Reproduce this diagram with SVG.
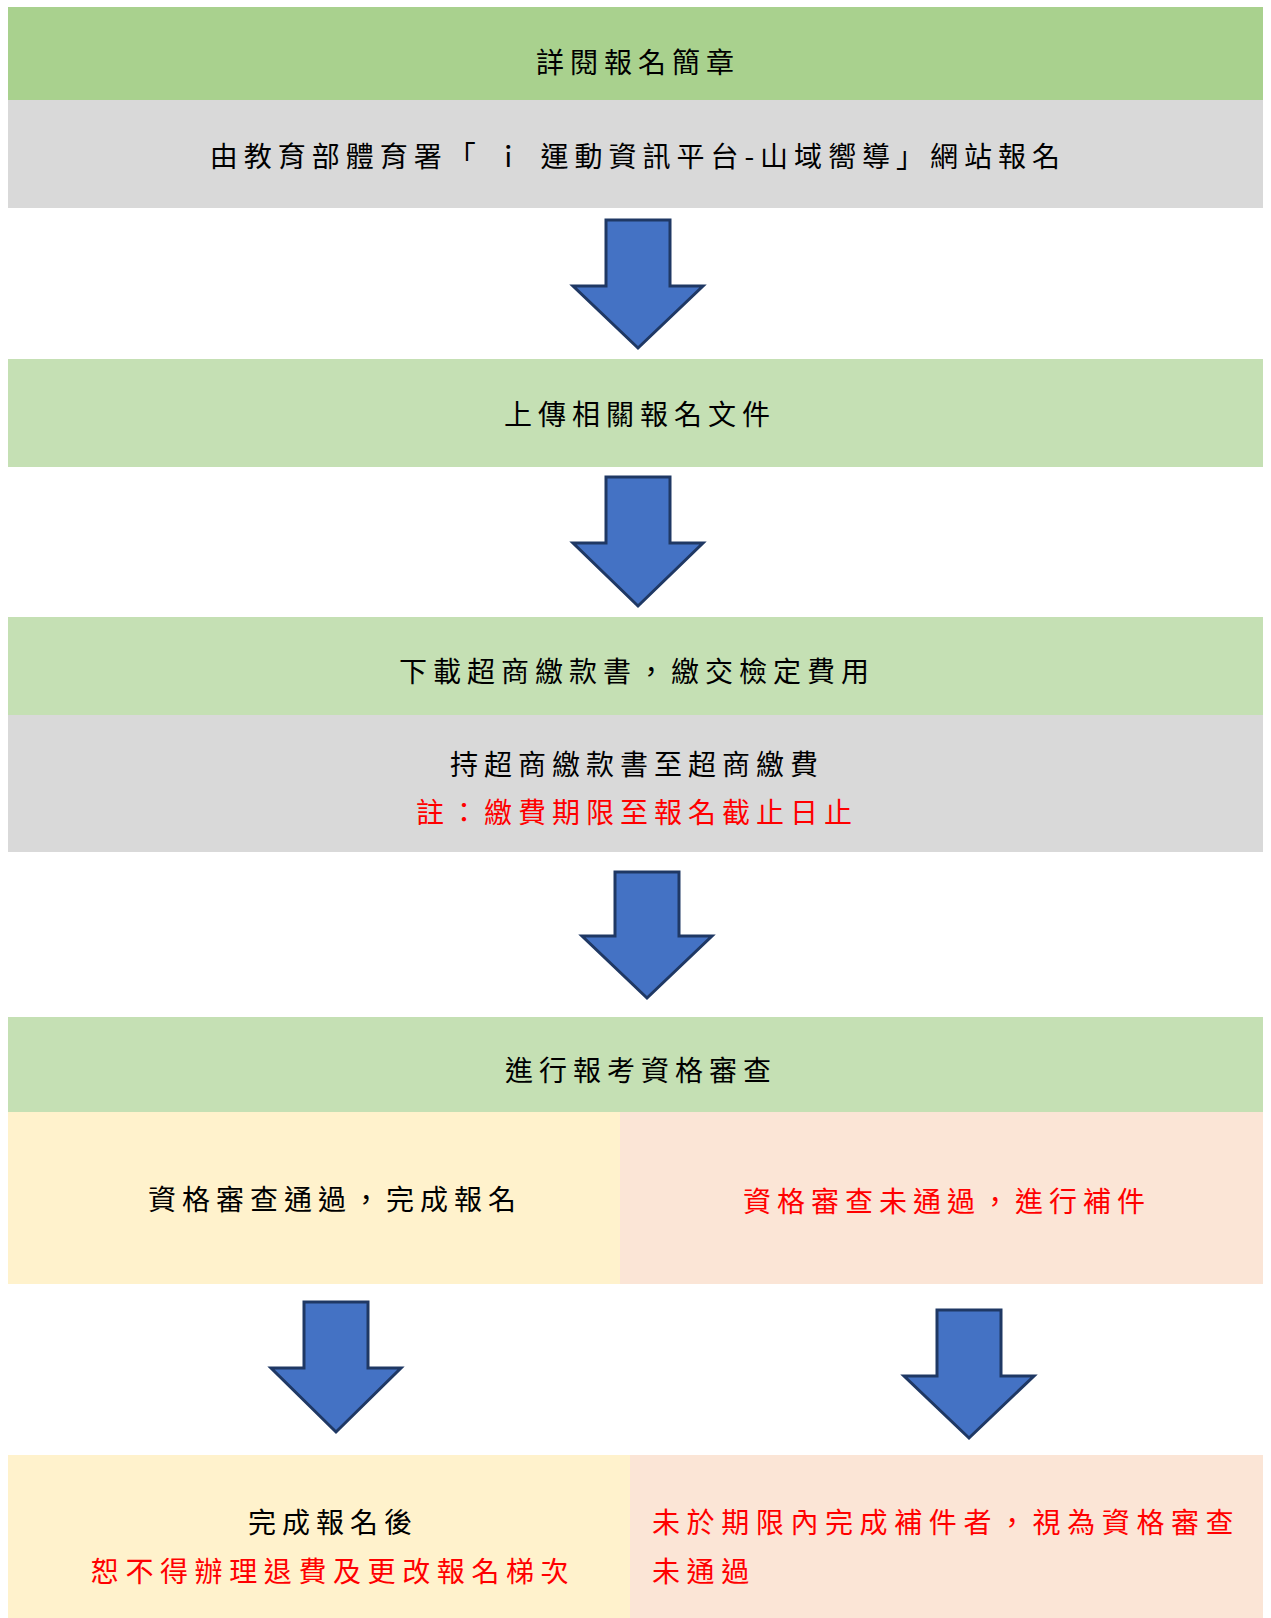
<svg xmlns="http://www.w3.org/2000/svg" width="1271" height="1618" viewBox="0 0 1271 1618">
<style>
.t{font-family:"Noto Sans CJK TC","Noto Sans CJK SC",sans-serif;font-size:28px;letter-spacing:6px;fill:#000;dominant-baseline:central}
.c{text-anchor:middle}
.r{fill:#FF0000}
.w{letter-spacing:6.6px}
.g1{fill:#A9D18E}
.g2{fill:#C5E0B4}
.gr{fill:#D9D9D9}
.y{fill:#FFF2CC}
.p{fill:#FBE5D6}
.arr{fill:#4472C4;stroke:#1F3864;stroke-width:3;stroke-linejoin:miter}
</style>
<rect width="1271" height="1618" fill="#FFFFFF"/>
<g id="node-read">
<rect class="g1" x="8" y="7" width="1255" height="93"/>
<text class="t c" x="638" y="61">詳閱報名簡章</text>
</g>
<g id="node-register">
<rect class="gr" x="8" y="100" width="1255" height="108"/>
<text class="t c" x="638" y="155">由教育部體育署「 ｉ 運動資訊平台-山域嚮導」網站報名</text>
</g>
<g id="node-upload">
<rect class="g2" x="8" y="359" width="1255" height="108"/>
<text class="t c" x="640" y="413">上傳相關報名文件</text>
</g>
<g id="node-download">
<rect class="g2" x="8" y="617" width="1255" height="98"/>
<text class="t c" x="637" y="670">下載超商繳款書，繳交檢定費用</text>
</g>
<g id="node-pay">
<rect class="gr" x="8" y="715" width="1255" height="137"/>
<text class="t c" x="637" y="763">持超商繳款書至超商繳費</text>
<text class="t c r" x="637" y="811">註：繳費期限至報名截止日止</text>
</g>
<g id="node-review">
<rect class="g2" x="8" y="1017" width="1255" height="95"/>
<text class="t c" x="641" y="1069">進行報考資格審查</text>
</g>
<g id="node-pass">
<rect class="y" x="8" y="1112" width="612" height="172"/>
<text class="t c" x="335" y="1198">資格審查通過，完成報名</text>
</g>
<g id="node-fail">
<rect class="p" x="620" y="1112" width="643" height="172"/>
<text class="t c r" x="947" y="1200">資格審查未通過，進行補件</text>
</g>
<g id="node-done">
<rect class="y" x="8" y="1455" width="622" height="163"/>
<text class="t c" x="333" y="1521">完成報名後</text>
<text class="t c r w" x="333" y="1570">恕不得辦理退費及更改報名梯次</text>
</g>
<g id="node-supplement">
<rect class="p" x="630" y="1455" width="633" height="163"/>
<text class="t r w" x="652" y="1521">未於期限內完成補件者，視為資格審查</text>
<text class="t r w" x="652" y="1570">未通過</text>
</g>
<g id="connectors">
<polygon class="arr" points="606,220 670,220 670,286 703,286 638,348 573,286 606,286"/>
<polygon class="arr" points="606,477 670,477 670,543 703,543 638,606 573,543 606,543"/>
<polygon class="arr" points="615,872 679,872 679,936 712,936 647,998 582,936 615,936"/>
<polygon class="arr" points="304,1302 368,1302 368,1368 401,1368 336,1432 271,1368 304,1368"/>
<polygon class="arr" points="937,1310 1001,1310 1001,1376 1034,1376 969,1438 904,1376 937,1376"/>
</g>
</svg>
